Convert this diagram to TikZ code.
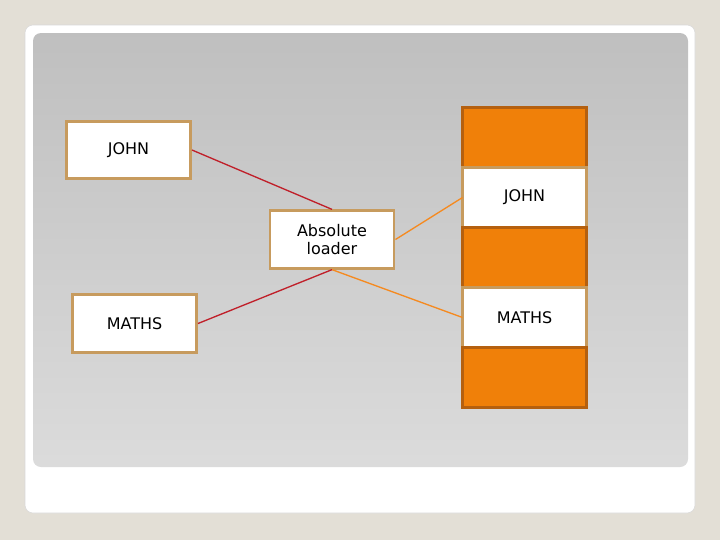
\documentclass[tikz,border=0pt]{standalone}
\usepackage{fontspec}
\setmainfont{DejaVu Sans}
\usetikzlibrary{positioning}
\definecolor{pagebg}{HTML}{E3DFD6}
\definecolor{tan}{HTML}{C79B5E}
\definecolor{orng}{HTML}{F08009}
\definecolor{orngdark}{HTML}{B5600F}
\definecolor{redline}{HTML}{C0202A}
\definecolor{orline}{HTML}{F58A20}
\tikzset{
  namebox/.style={draw=tan, line width=2.2pt, fill=white, minimum width=93pt,
    minimum height=43pt, font=\fontsize{12}{14}\selectfont, align=center, inner sep=0pt},
  slotbox/.style={draw=orngdark, line width=2.2pt, fill=orng, minimum width=93pt,
    minimum height=45pt, inner sep=0pt, outer sep=0pt},
  cellbox/.style={draw=tan, line width=2.2pt, fill=white, minimum width=93pt,
    minimum height=45pt, font=\fontsize{12}{14}\selectfont, inner sep=0pt, outer sep=0pt},
  link/.style={line width=1pt}
}
\begin{document}
\begin{tikzpicture}[x=0.75pt, y=-0.75pt]
  % page and panel
  \fill[pagebg] (0,0) rectangle (720,540);
  \useasboundingbox (0,0) rectangle (720,540);
  \fill[white, draw=black!15, rounded corners=6pt] (25,25) rectangle (695,513);
  \shade[top color=black!25, bottom color=black!14, rounded corners=6pt]
    (33,33) rectangle (688,467);

  % left boxes
  \node[namebox] (john) at (128.5,150) {JOHN};
  \node[namebox] (loader) at (332,239.5) {Absolute\\loader};
  \node[namebox] (maths) at (134.5,323.5) {MATHS};

  % memory column
  \node[slotbox] (s1) at (524.5,137.5) {};
  \node[cellbox, below=0pt of s1] (mjohn) {JOHN};
  \node[slotbox, below=0pt of mjohn] (s2) {};
  \node[cellbox, below=0pt of s2] (mmaths) {MATHS};
  \node[slotbox, below=0pt of mmaths] (s3) {};

  % connectors
  \draw[link, redline] (john.east) -- (loader.north);
  \draw[link, redline] (maths.east) -- (loader.south);
  \draw[link, orline] (loader.east) -- (mjohn.west);
  \draw[link, orline] (loader.south) -- (mmaths.west);
\end{tikzpicture}
\end{document}
